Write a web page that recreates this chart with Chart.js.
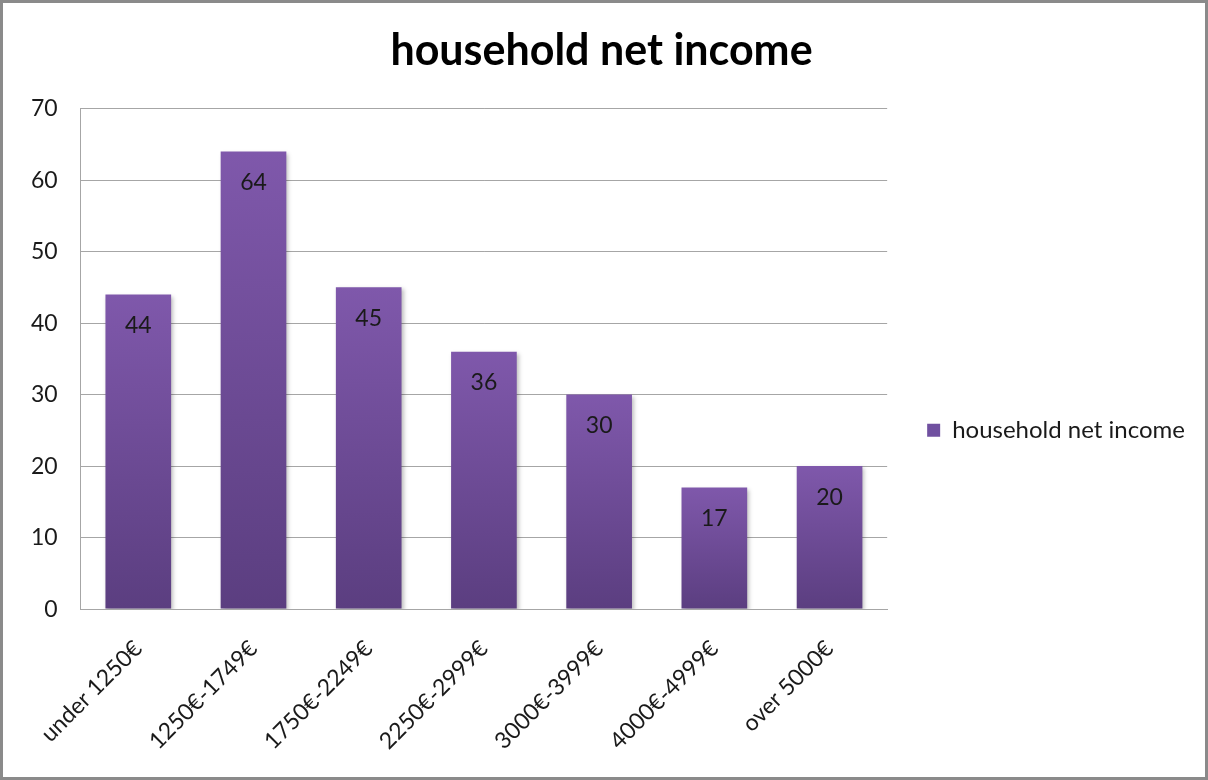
<!DOCTYPE html>
<html>
<head>
<meta charset="utf-8">
<script src="https://cdn.jsdelivr.net/npm/chart.js@4/dist/chart.umd.min.js"></script>
<style>
  html, body { margin: 0; padding: 0; background: #fff; }
  #frame {
    width: 1202px; height: 774px;
    border: 3px solid #8a8a8a;
    background: #fff;
    position: relative;
  }
  #chartBox { position: absolute; left: 0; top: 0; width: 1202px; height: 774px; }
</style>
</head>
<body>
<div id="frame"><div id="chartBox"><canvas id="incomeChart"></canvas></div></div>
<script>
// Einkommensklassen und Anzahl der Haushalte
const categories = ['under 1250€', '1250€-1749€', '1750€-2249€', '2250€-2999€', '3000€-3999€', '4000€-4999€', 'over 5000€'];
const households = [44, 64, 45, 36, 30, 17, 20];
const yTicks = [0, 10, 20, 30, 40, 50, 60, 70];
const seriesName = 'household net income';

const FONT = 'Lato, "Open Sans", sans-serif';
const TEXT = '#1a1a1a';
const BAR_TOP = '#7f58ab';
const BAR_BOTTOM = '#5b3e80';

// Verlauf pro Balken: oben heller, unten dunkler
function barGradient(context) {
    const chart = context.chart;
    const area = chart.chartArea;
    if (!area || context.type !== 'data') return '#6e4c98';
    const y = chart.scales.y;
    const top = y.getPixelForValue(context.parsed.y);
    const bottom = y.getPixelForValue(0);
    const g = chart.ctx.createLinearGradient(0, top, 0, bottom);
    g.addColorStop(0, BAR_TOP);
    g.addColorStop(1, BAR_BOTTOM);
    return g;
}

// Werte innerhalb der Balken oben anzeigen
const valueLabels = {
    id: 'valueLabels',
    afterDatasetsDraw(chart) {
        const ctx = chart.ctx;
        const meta = chart.getDatasetMeta(0);
        ctx.save();
        ctx.font = '23px ' + FONT;
        ctx.fillStyle = TEXT;
        ctx.textAlign = 'center';
        ctx.textBaseline = 'middle';
        meta.data.forEach((bar, i) => {
            ctx.fillText(String(households[i]), bar.x, bar.y + 31);
        });
        ctx.restore();
    }
};

// leichter Schatten hinter den Balken
const barShadow = {
    id: 'barShadow',
    beforeDatasetsDraw(chart) {
        const ctx = chart.ctx;
        ctx.save();
        ctx.shadowColor = 'rgba(0,0,0,0.25)';
        ctx.shadowBlur = 4;
        ctx.shadowOffsetX = 2;
        ctx.shadowOffsetY = 2;
    },
    afterDatasetsDraw(chart) {
        chart.ctx.restore();
    }
};

const ctx = document.getElementById('incomeChart').getContext('2d');
new Chart(ctx, {
    type: 'bar',
    data: {
        labels: categories,
        datasets: [{
            label: seriesName,
            data: households,
            backgroundColor: barGradient,
            borderWidth: 0,
            categoryPercentage: 1.0,
            barPercentage: 0.57
        }]
    },
    options: {
        responsive: true,
        maintainAspectRatio: false,
        animation: false,
        layout: { padding: { top: 6, left: 5, right: 10, bottom: -4 } },
        plugins: {
            title: {
                display: true,
                text: seriesName,
                color: '#000',
                font: { family: FONT, size: 43, weight: 'bold' },
                padding: { top: 16, bottom: 32 }
            },
            legend: {
                display: true,
                position: 'right',
                maxWidth: 400,
                // leerer Titel schiebt den Eintrag etwas nach unten
                title: { display: true, text: ' ', font: { size: 12 }, padding: { top: 28, bottom: 28 } },
                labels: {
                    color: TEXT,
                    font: { family: FONT, size: 24 },
                    boxWidth: 13,
                    boxHeight: 13,
                    padding: 40,
                    generateLabels: () => [{
                        text: seriesName,
                        fillStyle: '#7050a0',
                        strokeStyle: '#7050a0',
                        fontColor: TEXT,
                        lineWidth: 0,
                        datasetIndex: 0
                    }]
                }
            },
            tooltip: { enabled: false }
        },
        scales: {
            y: {
                min: 0,
                max: 70,
                afterBuildTicks: (axis) => { axis.ticks = yTicks.map(v => ({ value: v })); },
                grid: { color: '#a6a6a6', lineWidth: 1, drawTicks: false },
                border: { color: '#a6a6a6' },
                ticks: {
                    color: TEXT,
                    font: { family: FONT, size: 23 },
                    padding: 23
                }
            },
            x: {
                grid: { display: false, drawTicks: false },
                border: { color: '#a6a6a6' },
                ticks: {
                    color: TEXT,
                    font: { family: FONT, size: 23 },
                    minRotation: 45,
                    maxRotation: 45,
                    padding: 26
                }
            }
        }
    },
    plugins: [barShadow, valueLabels]
});
</script>
</body>
</html>
